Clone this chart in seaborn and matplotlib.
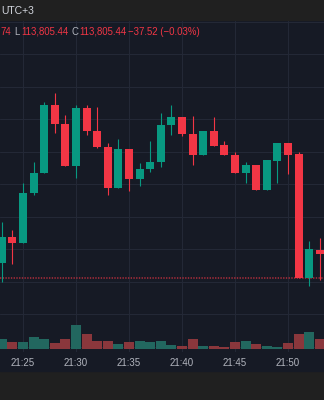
import numpy as np
import pandas as pd
import matplotlib
matplotlib.use("Agg")
import matplotlib.pyplot as plt
from matplotlib.patches import Rectangle
import seaborn as sns

# 1-minute BTC candles, 21:23 - 21:53 (UTC+3)
times = ["21:23", "21:24", "21:25", "21:26", "21:27", "21:28", "21:29", "21:30",
         "21:31", "21:32", "21:33", "21:34", "21:35", "21:36", "21:37", "21:38",
         "21:39", "21:40", "21:41", "21:42", "21:43", "21:44", "21:45", "21:46",
         "21:47", "21:48", "21:49", "21:50", "21:51", "21:52", "21:53"]
opens = [113828.5, 113868.5, 113859.3, 113936.2, 113967.0, 114071.6, 114042.4, 113977.8,
         114067.0, 114031.6, 114007.0, 113943.9, 114003.9, 113957.8, 113973.1, 113983.9,
         114040.8, 114053.1, 114027.0, 113994.7, 114031.6, 114010.1, 113994.7, 113967.0,
         113979.3, 113940.8, 113985.4, 114013.1, 113996.2, 113805.4, 113848.0]
highs = [113891.6, 113879.3, 113951.6, 113983.9, 114076.2, 114090.1, 114056.2, 114071.6,
         114071.6, 114068.5, 114013.1, 114019.3, 114003.9, 113982.4, 114016.2, 114059.3,
         114071.6, 114053.1, 114054.7, 114031.6, 114053.1, 114016.2, 113999.3, 113983.9,
         113979.3, 113987.0, 114013.1, 114013.1, 113999.3, 113862.4, 113867.0]
lows = [113799.3, 113827.0, 113859.3, 113933.1, 113967.0, 114028.5, 113977.8, 113959.3,
        114025.5, 114005.5, 113933.1, 113943.9, 113939.3, 113947.0, 113968.5, 113976.2,
        114025.5, 114023.9, 113979.3, 113994.7, 114008.5, 113994.7, 113967.0, 113951.6,
        113940.8, 113940.8, 113951.6, 113965.4, 113805.4, 113793.1, 113802.4]
closes = [113868.5, 113859.3, 113936.2, 113967.0, 114071.6, 114042.4, 113977.8, 114067.0,
          114031.6, 114007.0, 113943.9, 114003.9, 113957.8, 113973.1, 113983.9, 114040.8,
          114053.1, 114027.0, 113994.7, 114031.6, 114008.5, 113994.7, 113967.0, 113979.3,
          113940.8, 113987.0, 114013.1, 113994.7, 113805.4, 113850.1, 113842.96]
volumes = [20.4, 14.1, 13.8, 24.3, 20.1, 12.2, 19.7, 48.5, 30.2, 16.3, 15.6, 10.4,
           14.2, 16.1, 14.3, 15.8, 8.2, 6.4, 19.5, 6.3, 6.1, 4.4, 14.0, 16.2,
           10.1, 6.2, 4.3, 12.1, 30.5, 34.2, 20.3]
tick_labels = ["21:25", "21:30", "21:35", "21:40", "21:45", "21:50"]

# status line of the live bar
last_high_tail = "74"
last_low = 113805.44
last_close = 113805.44
change = -37.52
change_pct = -0.03
timezone = "UTC+3"

# theme colours
HEADER = "#202020"
PANE = "#161A25"
GRID = "#232836"
UP = "#089981"
DOWN = "#F23645"
VOL_UP = "#22675F"
VOL_DOWN = "#8A373C"
TEXT = "#B2B5BE"

sns.set_theme(style="dark")
plt.rcParams["font.family"] = ["Liberation Sans", "DejaVu Sans"]

W, H = 324, 400
fig = plt.figure(figsize=(W / 100, H / 100), dpi=100)
fig.patch.set_facecolor(HEADER)

pane_top, pane_bottom, axis_bottom = 21, 352, 371
ax = fig.add_axes([0, (H - pane_bottom) / H, 1, (pane_bottom - pane_top) / H])
ax.set_facecolor(PANE)
fig.patches.append(Rectangle((0, (H - axis_bottom) / H), 1, (axis_bottom - pane_bottom) / H,
                             transform=fig.transFigure, color=PANE, zorder=-1))

o = np.array(opens)
h = np.array(highs)
l = np.array(lows)
c = np.array(closes)
idx = np.arange(len(times))
up = c >= o
colors = np.where(up, UP, DOWN)

# volume pane overlay at the bottom
axv = ax.twinx()
df = pd.DataFrame({"idx": idx, "volume": volumes, "dir": np.where(up, "up", "down")})
sns.barplot(data=df, x="idx", y="volume", hue="dir", palette={"up": VOL_UP, "down": VOL_DOWN},
            dodge=False, native_scale=True, width=0.94, saturation=1, errorbar=None,
            legend=False, linewidth=0, ax=axv)
axv.set_ylim(-6, 656)
axv.set_ylabel("")
axv.set_xlabel("")
axv.set_yticks([])
axv.grid(False)

# candles
ax.vlines(idx, l, h, colors=colors, linewidth=0.8, zorder=3)
body = np.maximum(np.abs(c - o), 1.6)
ax.bar(idx, body, bottom=np.minimum(o, c), width=0.75, color=colors, linewidth=0, zorder=4)

# last price line
ax.axhline(last_close, color=DOWN, alpha=0.55, linewidth=1.4, linestyle=(0, (0.7, 0.7)), zorder=2)

ax.set_ylim(113691.6, 114200.8)
ax.set_yticks(np.arange(113700, 114201, 50))
ax.set_xticks([times.index(t) for t in tick_labels], tick_labels)
ax.set_xlim(-0.17, 30.4)
ax.grid(True, color=GRID, linewidth=0.8)
ax.set_axisbelow(True)
ax.tick_params(axis="y", left=False, labelleft=False)
ax.tick_params(axis="x", bottom=False, length=0, pad=4, labelsize=7, labelcolor=TEXT)
for a in (ax, axv):
    for s in a.spines.values():
        s.set_visible(False)

# header and status line
def px_text(x, y, s, color, size=6.9):
    fig.text(x / W, 1 - y / H, s, color=color, fontsize=size, ha="left", va="center")

px_text(1, 11.5, timezone, "#D1D4DC", 7.5)
px_text(0, 32, last_high_tail, DOWN)
px_text(14, 32, "L", TEXT)
px_text(21, 32, f"{last_low:,.2f}", DOWN)
px_text(72, 32, "C", TEXT)
px_text(79, 32, f"{last_close:,.2f}", DOWN)
px_text(128, 32, f"\u2212{abs(change):.2f} (\u2212{abs(change_pct):.2f}%)", DOWN)

fig.savefig("out.png", dpi=100, facecolor=fig.get_facecolor())
